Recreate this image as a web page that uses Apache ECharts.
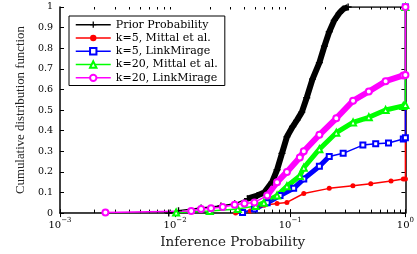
<!DOCTYPE html>
<html>
<head>
<meta charset="utf-8">
<script src="https://cdn.jsdelivr.net/npm/echarts@6/dist/echarts.min.js"></script>
<style>
  html, body { margin: 0; padding: 0; background: #fff; }
  #chart { width: 417px; height: 254px; }
</style>
</head>
<body>
<div id="chart"></div>
<script>
// values (x = inference probability, y = CDF)
const seriesNames = ['Prior Probability', 'k=5, Mittal et al.', 'k=5, LinkMirage', 'k=20, Mittal et al.', 'k=20, LinkMirage'];

const priorX = [0.0088, 0.0107, 0.0168, 0.025, 0.0329, 0.0425, 0.0517, 0.0594, 0.0695, 0.0768, 0.0847, 0.0935, 0.105, 0.114, 0.126, 0.139, 0.156, 0.179, 0.198, 0.218, 0.241, 0.266, 0.288, 0.318, 1];
const priorY = [0, 0.012, 0.025, 0.035, 0.045, 0.07, 0.085, 0.10, 0.15, 0.21, 0.29, 0.37, 0.42, 0.45, 0.49, 0.56, 0.65, 0.73, 0.81, 0.88, 0.935, 0.97, 0.99, 1, 1];

const mittal5X = [0.0335, 0.045, 0.0594, 0.0768, 0.0935, 0.131, 0.218, 0.35, 0.5, 0.75, 0.959, 1, 1];
const mittal5Y = [0, 0.01, 0.038, 0.047, 0.052, 0.095, 0.12, 0.133, 0.142, 0.156, 0.166, 0.166, 1];

const mirage5X = [0.0385, 0.0488, 0.063, 0.0815, 0.107, 0.131, 0.179, 0.218, 0.288, 0.427, 0.552, 0.713, 0.959, 1, 1];
const mirage5Y = [0.003, 0.02, 0.05, 0.085, 0.12, 0.166, 0.227, 0.275, 0.29, 0.33, 0.336, 0.34, 0.36, 0.365, 1];

const mittal20X = [0.0102, 0.02, 0.035, 0.05, 0.059, 0.0768, 0.0935, 0.121, 0.131, 0.179, 0.251, 0.351, 0.481, 0.673, 0.959, 1, 1];
const mittal20Y = [0.003, 0.01, 0.02, 0.035, 0.05, 0.085, 0.13, 0.18, 0.22, 0.31, 0.39, 0.44, 0.465, 0.50, 0.52, 0.525, 1];

const mirage20X = [0.00248, 0.0138, 0.0168, 0.0205, 0.0259, 0.0329, 0.040, 0.0488, 0.063, 0.0768, 0.0935, 0.121, 0.131, 0.179, 0.251, 0.351, 0.481, 0.673, 0.959, 1, 1];
const mirage20Y = [0.003, 0.01, 0.02, 0.024, 0.03, 0.04, 0.047, 0.052, 0.085, 0.15, 0.2, 0.27, 0.30, 0.38, 0.46, 0.545, 0.59, 0.64, 0.668, 0.67, 1];

const xExpLabels = ['\u22123', '\u22122', '\u22121', '0'];

const pairs = (xs, ys) => xs.map((x, i) => [x, ys[i]]);

// minor ticks at 2..9 of each decade
const minorTicks = [];
for (let d = 0.001; d < 1; d *= 10) {
  for (let k = 2; k <= 9; k++) minorTicks.push(+(d * k).toPrecision(3));
}

const plusSymbol = 'path://M4,0H6V4H10V6H6V10H4V6H0V4H4Z';
const serif = 'DejaVu Serif';

// look of each curve; band = x range where the markers crowd into a thick band
const styles = [
  { xs: priorX, ys: priorY, color: '#000', symbol: plusSymbol, size: 7, band: [0.04, 0.32], bandWidth: 6 },
  { xs: mittal5X, ys: mittal5Y, color: '#ff0000', symbol: 'circle', size: 5, band: null },
  { xs: mirage5X, ys: mirage5Y, color: '#0000ff', symbol: 'emptyRect', size: 5, band: [0.045, 0.22], bandWidth: 5 },
  { xs: mittal20X, ys: mittal20Y, color: '#00ff00', symbol: 'emptyTriangle', size: 6, band: [0.045, 0.96], bandWidth: 5 },
  { xs: mirage20X, ys: mirage20Y, color: '#ff00ff', symbol: 'emptyCircle', size: 6, band: [0.06, 0.96], bandWidth: 6 }
];

const series = [];
styles.forEach((s, i) => {
  series.push({
    name: seriesNames[i], type: 'line', data: pairs(s.xs, s.ys),
    color: s.color, symbol: s.symbol, symbolSize: s.size,
    lineStyle: { width: 1.5 }, itemStyle: { borderWidth: 1.2 }, z: 3
  });
});
styles.forEach((s, i) => {
  if (!s.band) return;
  series.push({
    name: seriesNames[i], type: 'line', silent: true, showSymbol: false,
    data: pairs(s.xs, s.ys).filter(p => p[0] >= s.band[0] && p[0] <= s.band[1]),
    color: s.color, lineStyle: { width: s.bandWidth, color: s.color }, z: 2 + i * 0.01
  });
});

const chart = echarts.init(document.getElementById('chart'));

const option = {
  animation: false,
  backgroundColor: '#fff',
  grid: { left: 60, right: 7, top: 7, bottom: 36 },
  legend: {
    orient: 'vertical',
    left: 69,
    top: 16,
    padding: [2, 7, 1, 6],
    itemWidth: 35,
    itemHeight: 8,
    itemGap: 0,
    backgroundColor: '#fff',
    borderColor: '#000',
    borderWidth: 1,
    borderRadius: 0,
    lineStyle: { width: 1.5 },
    textStyle: { fontFamily: serif, fontSize: 11, lineHeight: 13.3, color: '#000' },
    data: seriesNames
  },
  xAxis: [
    {
      type: 'log', logBase: 10, min: 0.001, max: 1,
      name: 'Inference Probability', nameLocation: 'middle', nameGap: 17,
      nameTextStyle: { fontFamily: serif, fontSize: 13.5, color: '#222' },
      axisLine: { lineStyle: { color: '#000', width: 1.5 } },
      axisTick: { inside: true, length: 4, lineStyle: { color: '#000' } },
      splitLine: { show: false },
      axisLabel: {
        margin: 4,
        color: '#000',
        formatter: v => '{b|10}{s|' + xExpLabels[Math.round(Math.log10(v)) + 3] + '}',
        rich: {
          b: { fontFamily: serif, fontSize: 10, lineHeight: 13, verticalAlign: 'bottom', color: '#000' },
          s: { fontFamily: serif, fontSize: 7, lineHeight: 13, verticalAlign: 'top', color: '#000' }
        }
      }
    },
    {
      type: 'log', logBase: 10, min: 0.001, max: 1, position: 'top',
      axisLine: { lineStyle: { color: '#444', width: 1 } },
      axisTick: { inside: true, length: 4, lineStyle: { color: '#000' } },
      axisLabel: { show: false },
      splitLine: { show: false }
    },
    {
      type: 'log', logBase: 10, min: 0.001, max: 1, position: 'bottom',
      axisLine: { show: false },
      axisTick: { inside: true, length: 3.5, customValues: minorTicks, lineStyle: { color: '#000' } },
      axisLabel: { show: false },
      splitLine: { show: false }
    },
    {
      type: 'log', logBase: 10, min: 0.001, max: 1, position: 'top',
      axisLine: { show: false },
      axisTick: { inside: true, length: 2.5, customValues: minorTicks, lineStyle: { color: '#000' } },
      axisLabel: { show: false },
      splitLine: { show: false }
    }
  ],
  yAxis: [
    {
      type: 'value', min: 0, max: 1, interval: 0.1,
      name: 'Cumulative distribution function', nameLocation: 'middle', nameGap: 28,
      nameTextStyle: { fontFamily: 'Liberation Serif', fontSize: 12.8, color: '#222' },
      axisLine: { show: true, lineStyle: { color: '#000', width: 1.5 } },
      axisTick: { show: true, inside: true, length: 4, lineStyle: { color: '#000' } },
      splitLine: { show: false },
      axisLabel: { margin: 7, fontFamily: serif, fontSize: 9.5, color: '#000' }
    },
    {
      type: 'value', min: 0, max: 1, interval: 0.1, position: 'right',
      axisLine: { show: true, lineStyle: { color: '#000', width: 1.5 } },
      axisTick: { show: true, inside: true, length: 4, lineStyle: { color: '#000' } },
      axisLabel: { show: false },
      splitLine: { show: false }
    }
  ],
  series: series
};

chart.setOption(option);
</script>
</body>
</html>
